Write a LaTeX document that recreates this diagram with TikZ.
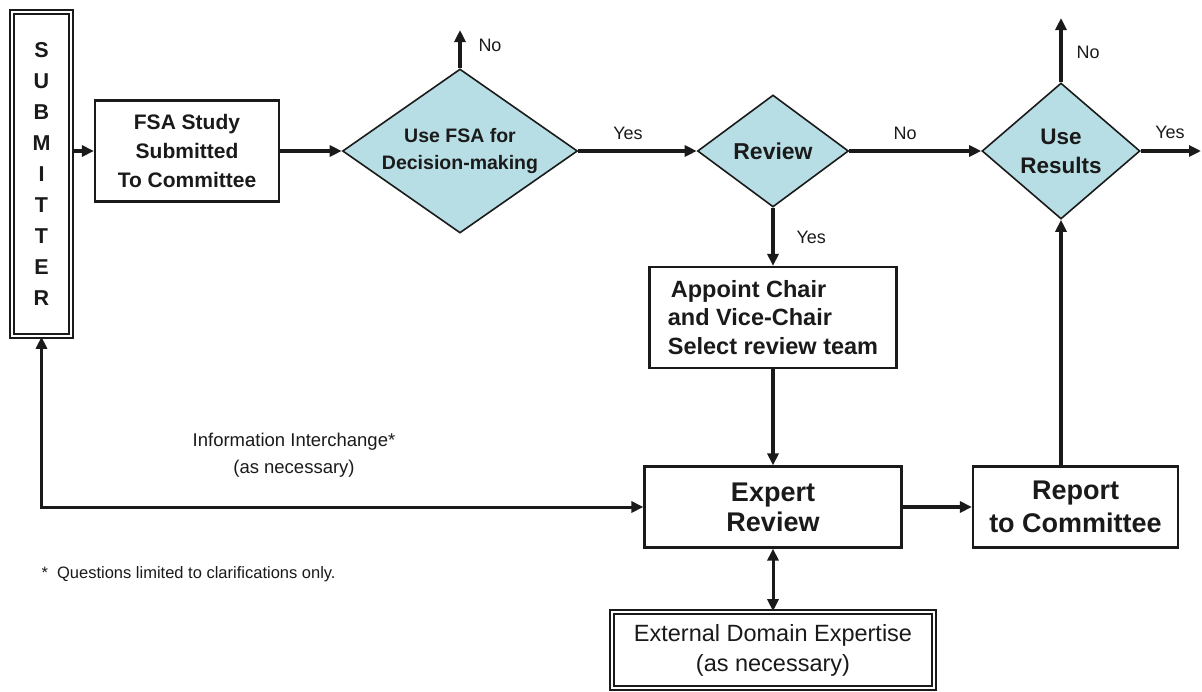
\documentclass[tikz,border=0pt]{standalone}
\usepackage{fontspec}
\setmainfont{Liberation Sans}
\usetikzlibrary{shapes.geometric,arrows.meta}
\definecolor{ink}{RGB}{26,26,26}
\definecolor{decfill}{RGB}{183,222,228}

\begin{document}
\begin{tikzpicture}[x=1pt,y=-1pt,
    box/.style={draw=ink,line width=2.2pt,fill=white,inner sep=0pt,align=center,text=ink},
    dbox/.style={box,line width=1.6pt,double=white,double distance=2pt},
    decision/.style={diamond,draw=ink,line width=1.6pt,fill=decfill,inner sep=0pt,align=center,text=ink},
    flow/.style={draw=ink,line width=3.5pt,-{Triangle[length=12pt,width=11pt]}},
    twoway/.style={draw=ink,line width=3pt,{Triangle[length=12pt,width=11pt]}-{Triangle[length=12pt,width=11pt]}},
    lbl/.style={text=ink,font=\fontsize{18}{21}\selectfont}]
        \useasboundingbox (0,0) rectangle (1202,691);

        % boxes and decisions
        \node[dbox,minimum width=59pt,minimum height=324pt,font=\fontsize{21.5}{31}\selectfont\bfseries] (sub) at (41.5,174) {S\\U\\B\\M\\I\\T\\T\\E\\R};
        \node[box,minimum width=184pt,minimum height=101pt,font=\fontsize{21}{29}\selectfont\bfseries] (fsa) at (187,151) {FSA Study\\Submitted\\To Committee};
        \node[decision,shape aspect=1.43,minimum width=235pt,minimum height=164pt,font=\fontsize{19.5}{27}\selectfont\bfseries] (usefsa) at (460,151) {Use FSA for\\Decision-making};
        \node[decision,shape aspect=1.35,minimum width=151pt,minimum height=112pt,font=\fontsize{23}{27}\selectfont\bfseries] (review) at (773,151) {Review};
        \node[decision,shape aspect=1.16,minimum width=158pt,minimum height=136pt,font=\fontsize{22.5}{29}\selectfont\bfseries] (useres) at (1061,151) {Use\\Results};
        \node[box,minimum width=247pt,minimum height=101pt,align=left,font=\fontsize{23.5}{28.5}\selectfont\bfseries] (appoint) at (773,317.5) {\hspace{3pt}Appoint Chair\\and Vice-Chair\\Select review team};
        \node[box,minimum width=257pt,minimum height=81pt,font=\fontsize{27}{30}\selectfont\bfseries] (expert) at (773,507) {Expert\\Review};
        \node[box,minimum width=205pt,minimum height=81pt,font=\fontsize{27}{33}\selectfont\bfseries] (report) at (1075.5,507) {Report\\to Committee};
        \node[dbox,minimum width=322pt,minimum height=76pt,font=\fontsize{23.5}{30}\selectfont] (extern) at (773,650) {External Domain Expertise\\(as necessary)};

        % free ends
        \coordinate (noA) at (460,30);
        \coordinate (noB) at (1061,18);
        \coordinate (yesB) at (1201,151);

        % connectors
        \draw[flow] (sub.east |- fsa.west) -- (fsa.west);
        \draw[flow] (fsa.east) -- (usefsa.west);
        \draw[flow] (usefsa.north) -- (noA);
        \draw[flow] (usefsa.east) -- (review.west);
        \draw[flow] (review.east) -- (useres.west);
        \draw[flow] (review.south) -- (appoint.north);
        \draw[flow] (appoint.south) -- (expert.north);
        \draw[flow] (expert.east) -- (report.west);
        \draw[flow] (useres.south |- report.north) -- (useres.south);
        \draw[flow] (useres.north) -- (noB);
        \draw[flow] (useres.east) -- (yesB);
        \draw[twoway] (expert.south) -- (extern.north);
        \draw[twoway] (sub.south) |- (expert.west);

        % labels
        \node[lbl] (lnoA) at (490,45) {No};
        \node[lbl] (lyesA) at (628,133) {Yes};
        \node[lbl] (lnoR) at (905,133) {No};
        \node[lbl,anchor=west] (lyesR) at (793,237) {Yes};
        \node[lbl] (lnoB) at (1088,52) {No};
        \node[lbl] (lyesB) at (1170,132) {Yes};
        \node[text=ink,align=center,font=\fontsize{18.5}{27}\selectfont] (info) at (294,455) {Information Interchange*\\(as necessary)};
        \node[text=ink,anchor=west,font=\fontsize{16.5}{19}\selectfont] (note) at (38,574) {*\ \ Questions limited to clarifications only.};
    \end{tikzpicture}
\end{document}
